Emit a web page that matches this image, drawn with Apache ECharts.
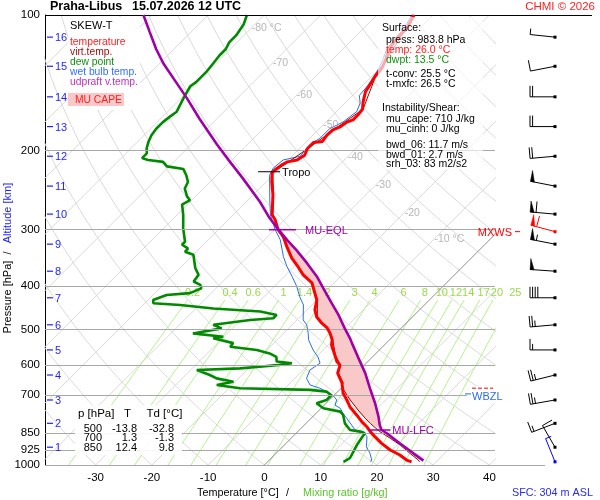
<!DOCTYPE html>
<html><head><meta charset="utf-8">
<script src="https://cdn.jsdelivr.net/npm/echarts@6/dist/echarts.min.js"></script>
<style>html,body{margin:0;padding:0;background:#fff}#c{width:600px;height:500px}</style>
</head><body><div id="c"></div>
<script>
const FONT = '"Liberation Sans", Arial, Helvetica, sans-serif';

// ---- sounding data: [pressure hPa, value °C] ----
const tempProfile = [[100,-53.4],[107,-52.3],[113,-52.3],[119,-51.8],[125,-50.6],[131,-49.7],[137,-49.4],[141,-49.0],[148,-48.4],[156,-47.0],[162,-45.8],[167,-45.6],[171,-45.6],[173,-46.3],[177,-46.6],[180,-47.4],[185,-47.5],[191,-47.2],[192,-48.6],[198,-48.6],[205,-47.9],[210,-48.4],[212,-49.8],[215,-50.2],[221,-50.6],[224,-50.6],[235,-49.0],[251,-46.5],[278,-43.1],[285,-41.7],[300,-39.4],[311,-37.2],[328,-34.7],[347,-31.9],[363,-29.2],[378,-26.9],[394,-23.9],[413,-21.8],[430,-20.0],[452,-18.6],[469,-17.0],[484,-15.0],[496,-13.2],[509,-11.8],[527,-10.2],[541,-9.4],[570,-7.0],[589,-5.5],[600,-4.3],[625,-3.3],[657,-0.8],[692,1.2],[717,3.1],[743,4.9],[774,7.5],[801,9.6],[822,11.4],[843,12.9],[865,14.6],[894,16.9],[926,19.7],[950,22.3],[975,24.4],[983.8,25.6]];
const virtProfile = [[100,-53.3],[137,-49.3],[162,-45.7],[180,-47.3],[198,-48.5],[224,-50.5],[251,-46.4],[278,-43.0],[300,-39.3],[328,-34.6],[347,-31.8],[378,-26.8],[394,-23.8],[430,-19.9],[469,-16.9],[496,-13.1],[527,-10.1],[570,-6.9],[600,-4.2],[625,-3.2],[657,-0.6],[670,-0.2],[717,3.7],[755,6.9],[787,9.6],[808,11.4],[843,14.6],[872,17.6],[903,20.6],[942,23.8],[975,26.5],[983.8,27.0]];
const dewProfile = [[100,-83.1],[105,-82.0],[111,-81.4],[115,-81.4],[119,-80.8],[123,-80.8],[128,-80.5],[134,-80.2],[141,-80.2],[144,-80.5],[153,-79.6],[164,-78.4],[168,-78.7],[173,-79.0],[179,-79.0],[185,-78.7],[191,-78.1],[198,-77.2],[203,-76.3],[208,-76.3],[210,-74.9],[212,-71.9],[217,-70.4],[220,-67.0],[227,-65.4],[235,-63.9],[243,-63.3],[253,-61.5],[258,-60.3],[264,-60.9],[278,-58.9],[298,-56.5],[319,-53.8],[324,-53.8],[330,-52.1],[336,-52.0],[341,-50.0],[365,-47.3],[378,-45.5],[391,-45.2],[398,-43.4],[405,-42.6],[415,-43.8],[419,-47.6],[430,-49.1],[437,-48.5],[441,-43.4],[449,-36.9],[456,-28.0],[464,-24.5],[472,-24.5],[476,-28.3],[488,-34.0],[497,-31.9],[510,-36.1],[519,-30.1],[523,-31.6],[536,-27.2],[546,-27.1],[555,-21.8],[565,-18.9],[575,-17.1],[589,-16.2],[594,-13.2],[600,-15.6],[605,-18.3],[610,-21.5],[615,-28.9],[631,-25.7],[642,-23.9],[653,-20.3],[664,-22.7],[675,-18.0],[681,-5.2],[687,-2.0],[700,-0.5],[717,-0.5],[729,-1.7],[748,0.4],[761,4.0],[774,5.1],[808,6.9],[836,9.0],[843,11.1],[850,12.2],[903,12.9],[966,14.0],[983.8,13.5]];
const wetBulbProfile = [[100,-53.8],[107,-52.8],[119,-52.2],[125,-51.1],[131,-50.2],[136,-49.7],[143,-49.1],[151,-48.8],[157,-47.3],[164,-46.4],[168,-46.7],[173,-47.0],[179,-48.2],[188,-48.2],[193,-48.8],[198,-48.8],[206,-48.5],[210,-50.9],[219,-51.2],[227,-50.6],[258,-46.1],[278,-43.4],[300,-39.9],[316,-37.2],[344,-33.7],[362,-31.3],[381,-28.6],[401,-26.0],[423,-23.6],[441,-21.5],[476,-18.9],[488,-17.4],[510,-15.6],[527,-14.4],[555,-11.8],[575,-9.7],[594,-8.2],[605,-8.5],[615,-8.8],[642,-7.9],[664,-6.1],[675,-3.8],[687,-2.0],[700,-0.2],[717,1.3],[736,1.9],[748,3.4],[768,4.8],[787,6.3],[815,8.4],[836,9.9],[843,11.7],[865,13.2],[911,14.9],[942,16.7],[975,18.2],[983.8,18.3]];
const updraftProfile = [[100,-101.5],[109,-97.4],[119,-93.2],[128,-89.4],[139,-84.6],[153,-79.0],[170,-73.1],[194,-65.4],[212,-60.0],[231,-54.7],[260,-47.6],[283,-42.9],[300,-39.3],[316,-36.0],[333,-32.5],[356,-28.3],[381,-24.2],[412,-20.0],[437,-16.8],[464,-13.5],[497,-10.0],[523,-7.3],[536,-6.1],[575,-2.6],[625,1.6],[675,5.1],[729,8.7],[781,11.7],[815,13.4],[836,14.6],[850,16.1],[895,20.2],[942,24.4],[978,27.5]];

// CAPE layer bounds (hPa)
const capeTop = 300, capeBottom = 836;

// axes / ticks
const pressureLevels = [100,200,300,400,500,600,700,850,925,1000];
const tempTicks = [-30,-20,-10,0,10,20,30,40];
const isoLabelTemps = [-80,-70,-60,-50,-40,-30,-20,-10];
const isoLabelPress = [107,128,151,176,207,239,275,315];
const mixRatios = [0.2,0.4,0.6,1,1.4,2,3,4,6,8,10,12,14,17,20,25];
const mixLabelPress = 415;
const altKm = [16,15,14,13,12,11,10,9,8,7,6,5,4,3,2,1];
const altPress = [112,130,152,177,206,240,277,323,371,425,488,555,631,717,808,913];

// markers
const markerNames = ['Tropo','MU-EQL','MU-LFC'];
const markerPress = [223,300,836];
const markerTemp = [-51.3,-38.7,14.2];
const wbzlPress = 695, frzPress = 675;

// winds
const windPress = [112,130,152,177,206,240,277,303,323,371,425,488,555,631,717,808,913,983.8];
const windDir   = [276,259,270,270,265,281,275,285,281,274,270,265,270,256,260,249,330,338];
const windSpd   = [5,10,20,20,20,50,60,60,55,50,40,25,15,25,25,15,10,5];
const windKind  = [0,0,0,0,0,0,0,1,0,0,0,0,0,0,0,0,0,2]; // 1 = MXWS, 2 = surface

// table & info
const tableP = [500,700,850], tableT = [-13.8,1.3,12.4], tableTd = [-32.8,-1.3,9.8];

// ---- skew-T transform ----
const skewX = (T,p) => T + 80*Math.log10(1000/p);
const toXY = d => [skewX(d[1], d[0]), d[0]];
function tdFromW(w,p){ const e = w*p/(622+w); const L = Math.log(e/6.112); return 243.5*L/(17.67-L); }

const series = [];
function addLine(data, color, width, z, extra){
  series.push(Object.assign({type:'line', xAxisIndex:0, yAxisIndex:0, data:data, showSymbol:false, symbol:'none',
    silent:true, animation:false, clip:true, z:z, lineStyle:{color:color, width:width}}, extra||{}));
}
// isotherms
for (let T=-110; T<=40; T+=10){ if (T===0) continue; addLine([[skewX(T,1000),1000],[skewX(T,100),100]], '#d9d9d9', 1, 1); }
// dry adiabats
for (let T0=-40; T0<=180; T0+=10){
  const d=[]; for (let p=1000; p>=100; p-=10){ const T=(T0+273.15)*Math.pow(p/1000,0.2857)-273.15; d.push([skewX(T,p),p]); }
  addLine(d, '#d9d9d9', 1, 1);
}
// mixing ratio lines
mixRatios.forEach(w=>{ const d=[]; for (let p=1000; p>=430; p-=10){ d.push([skewX(tdFromW(w,p),p),p]); } addLine(d, '#b4f08c', 1, 1); });
// 0°C isotherm with isobars as markLines
addLine([[skewX(0,1000),1000],[skewX(0,100),100]], '#707070', 0.8, 1, {
  markLine:{symbol:'none', silent:true, animation:false,
    label:{show:true, position:'start', distance:5, color:'#000', fontSize:11.5, fontFamily:FONT, formatter: p=>String(p.value)},
    data: pressureLevels.map(p=>({yAxis:p, lineStyle:{color: p===100?'#000':'#a8a8a8', width:1, type:'solid'}}))}
});

// CAPE polygon
const upSeg = updraftProfile.filter(d=>d[0]>=capeTop && d[0]<=capeBottom).slice().reverse();
const vSeg = virtProfile.filter(d=>d[0]>=capeTop && d[0]<=capeBottom);
const capePoly = upSeg.concat(vSeg).map(toXY);
series.push({type:'custom', xAxisIndex:0, yAxisIndex:0, data:[[0,500]], clip:true, silent:true, z:2,
  renderItem:(params, api)=>({type:'polygon', shape:{points:capePoly.map(d=>api.coord(d))}, style:{fill:'#f9c9c9'}})});

addLine(wetBulbProfile.map(toXY), '#2a6cf0', 1, 3);
addLine(virtProfile.map(toXY), '#a00000', 1, 3);
addLine(dewProfile.map(toXY), '#008a00', 2.6, 4);
addLine(tempProfile.map(toXY), '#ff0000', 3, 5);
addLine(updraftProfile.map(toXY), '#a000a8', 2.6, 6);

// isotherm labels
series.push({type:'scatter', xAxisIndex:0, yAxisIndex:0, symbolSize:1, itemStyle:{color:'rgba(0,0,0,0)'}, silent:true, z:3,
  data: isoLabelTemps.map((T,i)=>({value:[skewX(T,isoLabelPress[i]), isoLabelPress[i]], name:(T===-80||T===-10)?(T+' °C'):String(T)})),
  label:{show:true, position:'right', distance:0, formatter:'{b}', color:'#a4a4a4', fontSize:10.5, fontFamily:FONT}});
// mixing ratio labels (custom so labels beyond the plot edge still show)
series.push({type:'custom', xAxisIndex:0, yAxisIndex:0, clip:false, silent:true, z:3,
  data: mixRatios.map(w=>[skewX(tdFromW(w,mixLabelPress),mixLabelPress), mixLabelPress, w]),
  renderItem:(params, api)=>{
    const c = api.coord([api.value(0), api.value(1)]);
    return {type:'text', style:{text:String(api.value(2)), x:c[0], y:c[1], fill:'#9ad94a', font:'11px '+FONT, align:'center', verticalAlign:'middle', textAlign:'center', textVerticalAlign:'middle'}};
  }});

// markers (Tropo, EQL, LFC)
const markerStyle = [{c:'#000', l:11, r:11, t:13, w:1}, {c:'#a000a8', l:13, r:14, t:23, w:1.5}, {c:'#a000a8', l:11, r:11, t:13, w:1.5}];
series.push({type:'custom', xAxisIndex:0, yAxisIndex:0, clip:false, silent:true, z:8,
  data: markerNames.map((n,i)=>[skewX(markerTemp[i],markerPress[i]), markerPress[i]]),
  renderItem:(params, api)=>{
    const i = params.dataIndex, s = markerStyle[i];
    const c = api.coord([api.value(0), api.value(1)]);
    return {type:'group', children:[
      {type:'line', shape:{x1:c[0]-s.l, y1:c[1], x2:c[0]+s.r, y2:c[1]}, style:{stroke:s.c, lineWidth:s.w}},
      {type:'text', style:{text:markerNames[i], x:c[0]+s.t, y:c[1]+1, fill:s.c, font:'11px '+FONT, align:'left', verticalAlign:'middle', textAlign:'left', textVerticalAlign:'middle'}}
    ]};
  }});

// WBZL & freezing level
series.push({type:'custom', xAxisIndex:0, yAxisIndex:0, clip:false, silent:true, z:9,
  data:[[41, wbzlPress, frzPress]],
  renderItem:(params, api)=>{
    const a = api.coord([41, api.value(1)]), f = api.coord([41, api.value(2)]);
    return {type:'group', children:[
      {type:'rect', shape:{x:a[0]-28, y:a[1]-8, width:40, height:17}, style:{fill:'#fff'}},
      {type:'line', shape:{x1:a[0]-23, y1:f[1], x2:a[0]-2, y2:f[1]}, style:{stroke:'#ff0000', lineWidth:1, lineDash:[4,2]}},
      {type:'line', shape:{x1:a[0]-30, y1:a[1], x2:a[0]-24, y2:a[1]}, style:{stroke:'#2a6cf0', lineWidth:1}},
      {type:'text', style:{text:'WBZL', x:a[0]-23, y:a[1]+3, fill:'#2a6cf0', font:'11px '+FONT, align:'left', verticalAlign:'middle', textAlign:'left', textVerticalAlign:'middle'}}
    ]};
  }});

// altitude ticks
series.push({type:'custom', xAxisIndex:0, yAxisIndex:0, clip:false, silent:true, z:9,
  data: altKm.map((k,i)=>[-39, altPress[i], k]),
  renderItem:(params, api)=>{
    const c = api.coord([-39, api.value(1)]);
    return {type:'group', children:[
      {type:'line', shape:{x1:c[0]+2, y1:c[1], x2:c[0]+8, y2:c[1]}, style:{stroke:'#1f1fff', lineWidth:1.2}},
      {type:'text', style:{text:String(api.value(2)), x:c[0]+10, y:c[1]+1, fill:'#1f1fff', font:'11px '+FONT, align:'left', verticalAlign:'middle', textAlign:'left', textVerticalAlign:'middle'}}
    ]};
  }});

// wind barbs
series.push({type:'custom', xAxisIndex:1, yAxisIndex:1, clip:false, silent:true, z:9,
  data: windPress.map((p,i)=>[1, p, windDir[i], windSpd[i], windKind[i]]),
  renderItem:(params, api)=>{
    const p = api.value(1), dir = api.value(2), spd = api.value(3), kind = api.value(4);
    const c = api.coord([1, p]);
    const col = kind===1 ? '#ff0000' : (kind===2 ? '#0000ff' : '#000');
    const rad = dir*Math.PI/180, dx = Math.sin(rad), dy = -Math.cos(rad);
    const L = 25, tip = [c[0]+dx*L, c[1]+dy*L], nx = -dy, ny = dx;
    const P = s => [tip[0]-dx*s, tip[1]-dy*s];
    const ch = [{type:'line', shape:{x1:c[0], y1:c[1], x2:tip[0], y2:tip[1]}, style:{stroke:col, lineWidth:1}},
                {type:'rect', shape:{x:c[0]-1.5, y:c[1]-1.5, width:3, height:3}, style:{fill:col}}];
    let s = Math.round(spd/5)*5, pos = 0, hadPen = false;
    while (s >= 50){ const a=P(pos), b=P(pos+4);
      ch.push({type:'polygon', shape:{points:[a,[a[0]+nx*11,a[1]+ny*11],b]}, style:{fill:col, stroke:col, lineWidth:0.5}});
      pos += 5; s -= 50; hadPen = true; }
    if (hadPen) pos += 1;
    while (s >= 10){ const a=P(pos); ch.push({type:'line', shape:{x1:a[0],y1:a[1],x2:a[0]+nx*11,y2:a[1]+ny*11}, style:{stroke:col, lineWidth:1}}); pos += 2.6; s -= 10; }
    if (s >= 5){ const a=P(pos); ch.push({type:'line', shape:{x1:a[0],y1:a[1],x2:a[0]+nx*6,y2:a[1]+ny*6}, style:{stroke:col, lineWidth:1}}); }
    if (kind===1){
      ch.push({type:'line', shape:{x1:c[0]-40, y1:c[1], x2:c[0]-35, y2:c[1]}, style:{stroke:col, lineWidth:1}});
      ch.push({type:'text', style:{text:'MXWS', x:c[0]-43, y:c[1]+1, fill:col, font:'11px '+FONT, align:'right', verticalAlign:'middle', textAlign:'right', textVerticalAlign:'middle'}});
    }
    return {type:'group', children:ch};
  }});

// ---- graphic texts & boxes ----
const G = [];
function T(x,y,text,fill,size,extra){ G.push(Object.assign({type:'text', x:x, y:y, z:60, silent:true,
  style:Object.assign({text:text, fill:fill||'#000', font:(size||11)+'px '+FONT, align:'left', verticalAlign:'middle', textAlign:'left', textVerticalAlign:'middle'}, (extra&&extra.style)||{})}, extra&&extra.el||{})); }
function R(x,y,w,h,fill){ G.push({type:'rect', z:55, silent:true, shape:{x:x,y:y,width:w,height:h}, style:{fill:fill}}); }
function Ln(x1,y1,x2,y2,c){ G.push({type:'line', z:55, silent:true, shape:{x1:x1,y1:y1,x2:x2,y2:y2}, style:{stroke:c, lineWidth:1}}); }

Ln(495,15.5,592,15.5,'#000');
Ln(495,465.5,545,465.5,'#a8a8a8');
T(50,7,'Praha-Libus','#000',12,{style:{font:'bold 12.5px '+FONT}});
T(132,7,'15.07.2026 12 UTC','#000',12,{style:{font:'bold 12.5px '+FONT}});
T(595,7,'CHMI © 2026','#ff2020',11.5,{style:{align:'right',textAlign:'right'}});

// legend box
R(68,17,72,93,'rgba(255,255,255,0.92)');
T(70,25.5,'SKEW-T','#000',11);
T(70,42,'temperature','#ff2020',10.3);
T(70,52,'virt.temp.','#a01010',10.3);
T(70,62,'dew point','#109010',10.3);
T(70,72,'wet bulb temp.','#3070ff',10.3);
T(70,82,'udpraft v.temp.','#c030c0',10.3);
R(68,93,56,13,'#f9c9c9');
T(75,100,'MU CAPE','#ff2020',10.3);

// surface box (semi-transparent)
R(378,17,105,153,'rgba(255,255,255,0.65)');
const infoLines = [[382,28,'Surface:','#000'],[386,40,'press: 983.8 hPa','#000'],[386,50,'temp: 26.0 °C','#ff2020'],[386,60,'dwpt: 13.5 °C','#109010'],
  [386,74,'t-conv: 25.5 °C','#000'],[386,84,'t-mxfc: 26.5 °C','#000'],[382,108,'Instability/Shear:','#000'],[386,119,'mu_cape: 710 J/kg','#000'],
  [386,129.5,'mu_cinh: 0 J/kg','#000'],[386,145,'bwd_06: 11.7 m/s','#000'],[386,155,'bwd_01: 2.7 m/s','#000'],[386,164.5,'srh_03: 83 m2/s2','#000']];
infoLines.forEach(l=>T(l[0],l[1],l[2],l[3],10.5));

// table box
R(75,405,107,50,'rgba(255,255,255,0.9)');
T(78,413.5,'p [hPa]','#000',11.5);
T(127.5,413.5,'T','#000',11.5,{style:{align:'center',textAlign:'center'}});
T(146.5,413.5,'Td [°C]','#000',11.5);
tableP.forEach((p,i)=>{
  const y = 428.5 + i*9.8;
  T(102,y,String(p),'#000',11,{style:{align:'right',textAlign:'right'}});
  T(137,y,tableT[i].toFixed(1),'#000',11,{style:{align:'right',textAlign:'right'}});
  T(174,y,tableTd[i].toFixed(1),'#000',11,{style:{align:'right',textAlign:'right'}});
});

// axis titles
T(197,493,'Temperature [°C]','#000',10.8);
T(286,493,'/','#000',10.8);
T(303,493,'Mixing ratio [g/kg]','#5cc42e',10.8);
T(512,493,'SFC: 304 m ASL','#2a2af0',10.8);
T(8,297,'Pressure [hPa]','#000',11,{el:{rotation:Math.PI/2}, style:{align:'center',textAlign:'center'}});
T(8,253,'/','#000',11,{el:{rotation:Math.PI/2}, style:{align:'center',textAlign:'center'}});
T(8,213,'Altitude [km]','#2020ff',11,{el:{rotation:Math.PI/2}, style:{align:'center',textAlign:'center'}});

const option = {
  animation:false,
  backgroundColor:'#fff',
  grid:[{left:45, top:15, width:450, height:450, show:false},{left:505, top:15, width:50, height:450, show:false}],
  xAxis:[{type:'value', gridIndex:0, min:-39, max:41, position:'bottom',
          axisLine:{show:false, onZero:false}, axisTick:{show:false}, splitLine:{show:false},
          axisLabel:{customValues:tempTicks, color:'#000', fontSize:11.5, fontFamily:FONT, margin:7}},
         {type:'value', gridIndex:1, min:0, max:1, show:false}],
  yAxis:[{type:'log', gridIndex:0, min:100, max:1000, logBase:10, inverse:true,
          axisLine:{show:true, onZero:false, lineStyle:{color:'#000', width:1}}, axisTick:{show:false}, axisLabel:{show:false}, splitLine:{show:false}},
         {type:'log', gridIndex:1, min:100, max:1000, logBase:10, inverse:true, show:false}],
  series:series,
  graphic:{elements:G}
};
const chart = echarts.init(document.getElementById('c'), null, {renderer:'canvas'});
chart.setOption(option);
</script></body></html>
